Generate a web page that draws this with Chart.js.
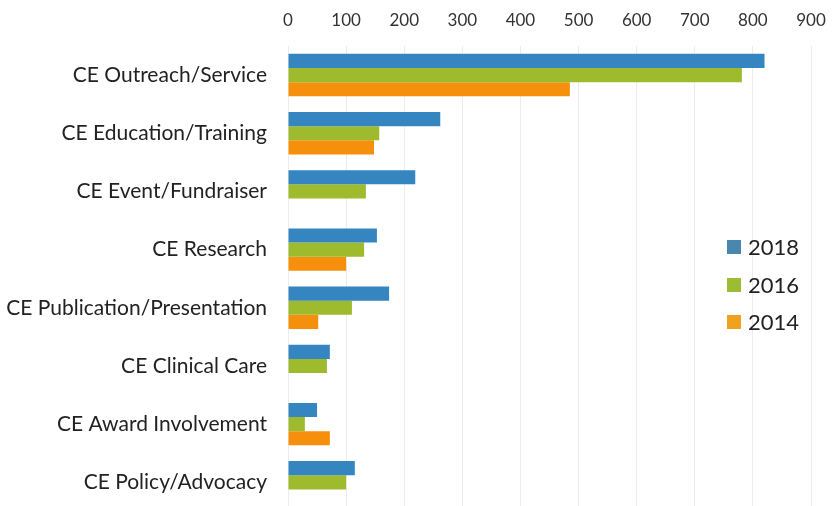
<!DOCTYPE html>
<html><head><meta charset="utf-8">
<script src="https://cdn.jsdelivr.net/npm/chart.js@4/dist/chart.umd.min.js"></script>
<style>html,body{margin:0;padding:0;background:#fff;overflow:hidden;height:506px}canvas{display:block}</style>
</head><body>
<canvas id="c" width="835" height="545" style="width:835px;height:545px"></canvas>
<script>
const categories = ["CE Outreach/Service","CE Education/Training","CE Event/Fundraiser","CE Research","CE Publication/Presentation","CE Clinical Care","CE Award Involvement","CE Policy/Advocacy"];
const seriesNames = ["2018","2016","2014"];
const values2018 = [820, 262, 219, 153, 174, 72, 50, 115];
const values2016 = [781, 157, 134, 131, 110, 67, 29, 100];
const values2014 = [485, 148, 0, 100, 52, 0, 72, 0];
const xTicks = [0,100,200,300,400,500,600,700,800,900];

const colors = ["#3585C0", "#9DBB2C", "#F68F0C"];
const legendColors = ["#4A87AF", "#9CBD33", "#EFA21E"];

const legendPlugin = {
  id: 'sideLegend',
  afterDraw(chart) {
    const ctx = chart.ctx;
    ctx.save();
    ctx.font = '22px Lato, "Noto Sans", sans-serif';
    ctx.textBaseline = 'middle';
    ctx.textAlign = 'left';
    const ys = [247, 285, 322];
    chart.data.datasets.forEach((ds, i) => {
      ctx.fillStyle = legendColors[i];
      ctx.fillRect(727, ys[i] - 7, 14, 14);
      ctx.fillStyle = '#222';
      ctx.fillText(ds.label, 748, ys[i] + 1);
    });
    ctx.restore();
  }
};

new Chart(document.getElementById('c'), {
  type: 'bar',
  data: {
    labels: categories,
    datasets: [
      {label: seriesNames[0], data: values2018, backgroundColor: colors[0]},
      {label: seriesNames[1], data: values2016, backgroundColor: colors[1]},
      {label: seriesNames[2], data: values2014, backgroundColor: colors[2]}
    ]
  },
  options: {
    indexAxis: 'y',
    responsive: false,
    animation: false,
    layout: {padding: {top: 8, right: 24, left: 0, bottom: 0}},
    datasets: {bar: {barPercentage: 1.0, categoryPercentage: 0.73}},
    plugins: {legend: {display: false}, tooltip: {enabled: false}},
    scales: {
      x: {
        position: 'top',
        min: 0, max: 900,
        afterBuildTicks: s => { s.ticks = xTicks.map(v => ({value: v})); },
        ticks: {color: '#333', font: {size: 17, family: 'Lato, "Noto Sans", sans-serif'}, padding: 15},
        grid: {color: '#ececec', drawTicks: false},
        border: {display: false},
        afterFit: s => { s.height = 38; s.paddingRight = 0; s.paddingLeft = 0; }
      },
      y: {
        ticks: {color: '#222', font: {size: 21, family: 'Lato, "Noto Sans", sans-serif'}, padding: 21},
        grid: {display: false, drawTicks: false},
        border: {display: false},
        afterFit: s => { s.width = 288; }
      }
    }
  },
  plugins: [legendPlugin]
});
</script>
</body></html>
